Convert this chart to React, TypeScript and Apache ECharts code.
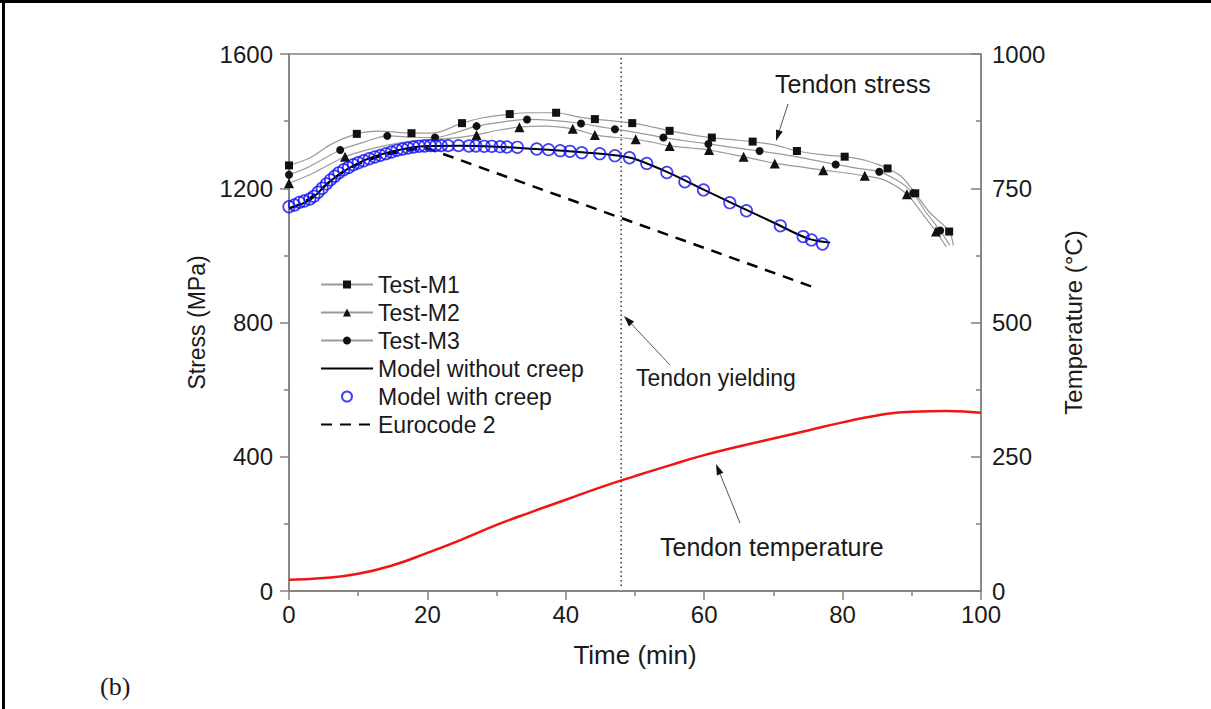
import React, { useEffect, useRef } from "react";
import * as echarts from "echarts";

// ---------- data ----------
const legendNames = ["Test-M1", "Test-M2", "Test-M3", "Model without creep", "Model with creep", "Eurocode 2"];

const m1Markers: number[][] = [[0, 1268], [9.8, 1362], [17.7, 1364], [25, 1394], [31.9, 1421], [38.6, 1425], [44.2, 1406], [49.6, 1394], [55, 1371], [61.1, 1351], [67, 1339], [73.4, 1311], [80.3, 1294], [86.5, 1259], [90.5, 1185], [95.4, 1071]];
const m1Line: number[][] = [[3, 1290], [6, 1330], [13, 1370], [21, 1365], [28, 1410], [35, 1425], [42, 1412], [52, 1385], [58, 1360], [64, 1345], [70, 1330], [77, 1300], [83.5, 1282], [88.5, 1235], [92.5, 1130], [96, 1030]];

const m2Markers: number[][] = [[0, 1215], [8.1, 1294], [27.1, 1359], [33.3, 1382], [41, 1377], [44.2, 1359], [50.1, 1346], [55, 1326], [60.7, 1314], [65.7, 1294], [70.2, 1274], [77.2, 1254], [83.2, 1237], [89.3, 1182], [93.5, 1071]];
const m2Line: number[][] = [[3, 1240], [12, 1318], [16, 1335], [20, 1345], [24, 1350], [30, 1372], [37, 1385], [47, 1352], [52.5, 1337], [58, 1320], [63, 1305], [68, 1284], [73.5, 1265], [80, 1247], [86, 1225], [91.5, 1125], [95, 1025]];

const m3Markers: number[][] = [[0, 1240], [7.4, 1314], [14.2, 1356], [21.1, 1351], [27.1, 1385], [34.4, 1405], [42.2, 1393], [47.1, 1376], [54.1, 1351], [60.6, 1332], [68, 1311], [79, 1271], [85.3, 1249], [90.2, 1185], [94.1, 1074]];
const m3Line: number[][] = [[3, 1265], [10.5, 1335], [18, 1352], [24, 1365], [31, 1398], [38, 1402], [45, 1383], [50.5, 1365], [57, 1342], [64, 1322], [73, 1295], [82, 1260], [88, 1222], [92, 1130], [95.5, 1030]];

const modelNoCreep: number[][] = [[0, 1140], [3, 1165], [6, 1222], [10, 1275], [15, 1310], [20, 1326], [25, 1327], [30, 1324], [35, 1318], [40, 1311], [45, 1303], [48, 1296], [50, 1287], [55, 1245], [60, 1195], [65, 1146], [70, 1098], [75, 1050], [78.2, 1038]];

const modelCreep: number[][] = [[0, 1145], [0.8, 1150], [1.5, 1158], [2.2, 1162], [3, 1168], [3.6, 1176], [4.2, 1188], [4.8, 1200], [5.4, 1213], [6, 1225], [6.6, 1236], [7.2, 1246], [7.9, 1255], [8.6, 1262], [9.3, 1270], [10, 1276], [10.8, 1282], [11.6, 1288], [12.4, 1293], [13.2, 1298], [14, 1303], [14.8, 1308], [15.6, 1313], [16.4, 1317], [17.2, 1320], [18, 1323], [18.8, 1325], [19.6, 1326], [20.4, 1327], [21.2, 1327], [22, 1327], [23, 1327], [24.5, 1327], [26, 1326], [27, 1326], [28.2, 1325], [29.3, 1325], [30.5, 1324], [31.5, 1323], [33, 1322], [35.8, 1317], [37.5, 1315], [39.2, 1312], [40.6, 1310], [42.3, 1306], [44.9, 1303], [47.1, 1297], [49.2, 1291], [51.7, 1274], [54.6, 1247], [57.2, 1219], [59.9, 1195], [63.7, 1157], [66.1, 1133], [71, 1088], [74.3, 1056], [75.5, 1046], [77.1, 1034]];

const eurocode: number[][] = [[0, 1140], [2, 1155], [4, 1185], [6, 1222], [8, 1252], [10, 1272], [12, 1288], [14, 1300], [16, 1309], [18, 1316], [20, 1319], [76.5, 900]];

const tempTime = [0, 5, 10, 15, 20, 25, 30, 35, 40, 45, 50, 55, 60, 65, 70, 75, 80, 85, 90, 95, 100];
const tempValues = [21, 24, 32, 48, 71, 96, 123, 147, 170, 193, 214, 234, 253, 269, 284, 299, 314, 327, 334, 335, 332];

const yieldTime = 48;
const yieldSpan = [15, 1588];

// ---------- helpers ----------
const FONT = "'Liberation Sans', Arial, sans-serif";
const AX = "#808080";
const TXT = "#1a1a1a";
const CLEAR = "rgba(0,0,0,0)";

function mergeTest(markers: number[][], line: number[][]) {
  const all = [
    ...markers.map((p) => ({ value: p })),
    ...line.map((p) => ({ value: p, symbol: "none" })),
  ];
  all.sort((a, b) => a.value[0] - b.value[0]);
  return all;
}

function arrow(x1: number, y1: number, x2: number, y2: number) {
  const dx = x2 - x1, dy = y2 - y1;
  const len = Math.sqrt(dx * dx + dy * dy);
  const ux = dx / len, uy = dy / len;
  const hl = 11, hw = 3.5;
  const bx = x2 - ux * hl, by = y2 - uy * hl;
  return [
    { type: "line", shape: { x1, y1, x2: bx, y2: by }, style: { stroke: "#555", lineWidth: 1 }, z: 100 },
    {
      type: "polygon",
      shape: { points: [[x2, y2], [bx - uy * hw, by + ux * hw], [bx + uy * hw, by - ux * hw]] },
      style: { fill: "#111" },
      z: 100,
    },
  ];
}

function textEl(text: string, x: number, y: number, size = 23, family = FONT) {
  return {
    type: "text",
    x,
    y,
    style: { text, fill: TXT, font: `${size}px ${family}`, textVerticalAlign: "middle" },
    z: 100,
  };
}

const plain = (v: number) => String(v);

export default function App() {
  const ref = useRef<HTMLDivElement>(null);
  useEffect(() => {
    document.body.style.margin = "0";
    if (!ref.current) return;
    const chart = echarts.init(ref.current, undefined, { renderer: "svg" });

    const testSeries = (name: string, markers: number[][], line: number[][], symbol: string, size: number) => ({
      name,
      type: "line",
      data: mergeTest(markers, line),
      symbol,
      symbolSize: size,
      showSymbol: true,
      smooth: 0.3,
      itemStyle: { color: "#111" },
      lineStyle: { color: "#9a9a9a", width: 1.2 },
      z: 3,
    });

    chart.setOption({
      animation: false,
      backgroundColor: "#fff",
      textStyle: { fontFamily: FONT },
      grid: { left: 289, right: 230, top: 54, bottom: 118, show: true, borderColor: AX, borderWidth: 1.5, backgroundColor: "transparent" },
      legend: {
        orient: "vertical",
        left: 320,
        top: 273,
        padding: 0,
        itemWidth: 52,
        itemHeight: 10,
        itemGap: 5,
        data: legendNames,
        textStyle: { fontSize: 23, color: TXT, fontFamily: FONT, lineHeight: 20 },
      },
      xAxis: {
        type: "value",
        min: 0,
        max: 100,
        interval: 20,
        name: "Time (min)",
        nameLocation: "middle",
        nameGap: 51,
        nameTextStyle: { fontSize: 26, color: TXT },
        axisLine: { lineStyle: { color: AX, width: 1.5 } },
        axisTick: { lineStyle: { color: AX, width: 1.5 }, length: 9 },
        minorTick: { show: true, splitNumber: 2, length: 5, lineStyle: { color: AX, width: 1.5 } },
        axisLabel: { fontSize: 24, color: TXT, margin: 11, formatter: plain },
        splitLine: { show: false },
      },
      yAxis: [
        {
          type: "value",
          min: 0,
          max: 1600,
          interval: 400,
          name: "Stress (MPa)",
          nameLocation: "middle",
          nameGap: 80,
          nameTextStyle: { fontSize: 23, color: TXT },
          axisLine: { show: true, lineStyle: { color: AX, width: 1.5 } },
          axisTick: { lineStyle: { color: AX, width: 1.5 }, length: 9 },
          minorTick: { show: true, splitNumber: 2, length: 5, lineStyle: { color: AX, width: 1.5 } },
          axisLabel: { fontSize: 24, color: TXT, margin: 16, formatter: plain },
          splitLine: { show: false },
        },
        {
          type: "value",
          position: "right",
          min: 0,
          max: 1000,
          interval: 250,
          name: "Temperature (°C)",
          nameLocation: "middle",
          nameGap: 80,
          nameTextStyle: { fontSize: 24, color: TXT },
          axisLine: { show: true, lineStyle: { color: AX, width: 1.5 } },
          axisTick: { inside: true, lineStyle: { color: AX, width: 1.5 }, length: 10 },
          minorTick: { show: true, splitNumber: 2, length: 5, lineStyle: { color: AX, width: 1.5 } },
          axisLabel: { fontSize: 24, color: TXT, margin: 11, formatter: plain },
          splitLine: { show: false },
        },
      ],
      series: [
        testSeries("Test-M1", m1Markers, m1Line, "rect", 8),
        testSeries("Test-M2", m2Markers, m2Line, "triangle", 10),
        testSeries("Test-M3", m3Markers, m3Line, "circle", 8),
        {
          name: "Model without creep",
          type: "line",
          data: modelNoCreep,
          symbol: "circle",
          showSymbol: false,
          smooth: 0.3,
          itemStyle: { color: CLEAR, borderColor: CLEAR, borderWidth: 0 },
          lineStyle: { color: "#000", width: 2 },
          z: 4,
        },
        {
          name: "Model with creep",
          type: "scatter",
          data: modelCreep,
          symbol: "circle",
          symbolSize: 11.5,
          itemStyle: { color: CLEAR, borderColor: "#1010f5", borderWidth: 1.7 },
          z: 5,
        },
        {
          name: "Eurocode 2",
          type: "line",
          data: eurocode,
          symbol: "circle",
          showSymbol: false,
          smooth: false,
          itemStyle: { color: CLEAR, borderColor: CLEAR, borderWidth: 0 },
          lineStyle: { color: "#000", width: 2.5, type: [11, 8] },
          z: 4,
        },
        {
          name: "Temperature",
          type: "line",
          yAxisIndex: 1,
          data: tempTime.map((t, i) => [t, tempValues[i]]),
          symbol: "none",
          smooth: true,
          lineStyle: { color: "#f01414", width: 2.5 },
          z: 3,
        },
        {
          name: "Yield",
          type: "line",
          data: yieldSpan.map((v) => [yieldTime, v]),
          symbol: "none",
          lineStyle: { color: "#000", width: 1.2, type: [1.5, 3] },
          z: 2,
        },
      ],
      graphic: [
        { type: "rect", shape: { x: 0, y: 0, width: 1211, height: 3 }, style: { fill: "#000" }, z: 100 },
        { type: "rect", shape: { x: 2, y: 0, width: 3, height: 709 }, style: { fill: "#000" }, z: 100 },
        textEl("Tendon stress", 775, 84, 25),
        textEl("Tendon yielding", 636, 378, 23),
        textEl("Tendon temperature", 660, 547, 25),
        textEl("(b)", 100, 686, 26, "'Liberation Serif', 'Times New Roman', serif"),
        ...arrow(788, 104, 776, 141),
        ...arrow(670, 365, 624, 316),
        ...arrow(740, 523, 716, 464),
      ],
    });
    return () => chart.dispose();
  }, []);
  return <div ref={ref} style={{ position: "fixed", left: 0, top: 0, width: 1211, height: 709 }} />;
}
